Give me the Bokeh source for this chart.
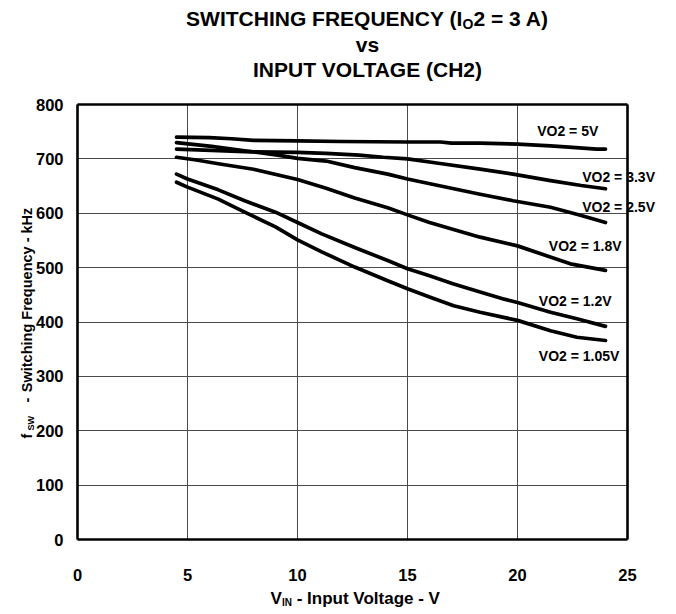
import math
from bokeh.plotting import figure
from bokeh.models import Label, FixedTicker, Range1d, LinearAxis, Grid
from bokeh.embed import file_html
from bokeh.resources import INLINE

# ---------------- data ----------------
vin_5v0 = [4.5, 6, 7, 8, 10, 12, 15, 16.5, 17, 18.3, 20, 21.5, 22.5, 23.6, 24]
fsw_5v0 = [740, 739, 737, 734, 733, 732, 731, 731, 729, 729, 727, 724, 721, 718, 718]

vin_3v3 = [4.5, 6.4, 7.9, 10, 11.3, 12.8, 13.9, 15, 16.4, 18.3, 19.8, 21.5, 22.9, 24]
fsw_3v3 = [718, 715, 713, 712, 710, 707, 703, 700, 692, 681, 672, 660, 651, 645]

vin_2v5 = [4.5, 6.1, 7.6, 9.1, 10, 11.3, 12.6, 14.1, 15, 16.4, 18.3, 19.8, 21.5, 22.9, 24]
fsw_2v5 = [730, 723, 715, 707, 701, 696, 684, 672, 663, 651, 635, 623, 611, 596, 583]

vin_1v8 = [4.5, 5.4, 6.4, 8, 10, 11.3, 12.6, 14.1, 15, 16, 18.3, 20, 22.4, 24]
fsw_1v8 = [703, 698, 691, 681, 662, 646, 628, 610, 597, 583, 556, 540, 507, 495]

vin_1v2 = [4.5, 5, 6.4, 7.6, 9, 10, 11.1, 12.6, 14.1, 15, 16, 17.1, 18.3, 19.4, 20, 21.5, 22.7, 24]
fsw_1v2 = [672, 663, 643, 623, 602, 583, 562, 537, 513, 498, 485, 470, 455, 442, 436, 418, 406, 392]

vin_1v05 = [4.5, 5, 6.4, 7.6, 9, 10, 11.1, 12.6, 14.1, 15, 16, 17.1, 18.3, 20, 21.5, 22.7, 24]
fsw_1v05 = [657, 648, 626, 602, 575, 551, 529, 501, 476, 461, 446, 430, 418, 403, 384, 372, 366]

series_names = ["VO2 = 5V", "VO2 = 3.3V", "VO2 = 2.5V", "VO2 = 1.8V", "VO2 = 1.2V", "VO2 = 1.05V"]
x_ticks = [0, 5, 10, 15, 20, 25]
y_ticks = [0, 100, 200, 300, 400, 500, 600, 700, 800]

# ---------------- figure ----------------
FONT = "Liberation Sans"
W, H = 676, 614
FX0, FX1, FY0, FY1 = 77, 627, 104, 539          # pixel box of the data area
x0, x1 = x_ticks[0], x_ticks[-1]
y0, y1 = y_ticks[0], y_ticks[-1]
sx = (FX1 - FX0) / (x1 - x0)
sy = (FY1 - FY0) / (y1 - y0)

p = figure(width=W, height=H, output_backend="svg", toolbar_location=None,
           x_range=Range1d(x0 - FX0 / sx, x1 + (W - FX1) / sx),
           y_range=Range1d(y0 - (H - FY1) / sy, y1 + FY0 / sy),
           min_border=0)
p.background_fill_color = "white"
p.border_fill_color = "white"
p.outline_line_color = None

def style_axis(ax, ticks, show_labels, standoff=0):
    ax.ticker = FixedTicker(ticks=ticks)
    ax.axis_line_color = "black"
    ax.axis_line_width = 2.6
    ax.major_tick_line_color = None
    ax.minor_tick_line_color = None
    ax.major_tick_out = 0
    ax.major_tick_in = 0
    ax.minor_tick_out = 0
    ax.minor_tick_in = 0
    ax.major_label_text_font = FONT
    ax.major_label_text_font_style = "bold"
    ax.major_label_text_font_size = "16.5px"
    ax.major_label_text_color = "black" if show_labels else None
    ax.major_label_standoff = standoff

xa = p.xaxis[0]
ya = p.yaxis[0]
xa.fixed_location = y0
xa.bounds = (x0, x1)
ya.fixed_location = x0
ya.bounds = (y0, y1)
style_axis(xa, x_ticks, True, 29)
style_axis(ya, y_ticks, True, 14)

top_ax = LinearAxis(fixed_location=y1, bounds=(x0, x1))
style_axis(top_ax, x_ticks, False)
p.add_layout(top_ax, "above")
right_ax = LinearAxis(fixed_location=x1, bounds=(y0, y1))
style_axis(right_ax, y_ticks, False)
p.add_layout(right_ax, "right")

has_cross = "cross_bounds" in Grid.properties()
if has_cross:
    p.xgrid.ticker = FixedTicker(ticks=x_ticks)
    p.ygrid.ticker = FixedTicker(ticks=y_ticks)
    p.xgrid.bounds = (x0, x1)
    p.xgrid.cross_bounds = (y0, y1)
    p.ygrid.bounds = (y0, y1)
    p.ygrid.cross_bounds = (x0, x1)
    p.grid.grid_line_color = "#4a4a4a"
    p.grid.grid_line_width = 1
else:
    p.grid.grid_line_color = None
    p.segment(x0=x_ticks[1:-1], y0=[y0] * (len(x_ticks) - 2), x1=x_ticks[1:-1], y1=[y1] * (len(x_ticks) - 2),
              line_color="#4a4a4a", line_width=1, level="underlay")
    p.segment(x0=[x0] * (len(y_ticks) - 2), y0=y_ticks[1:-1], x1=[x1] * (len(y_ticks) - 2), y1=y_ticks[1:-1],
              line_color="#4a4a4a", line_width=1, level="underlay")

series = [(vin_5v0, fsw_5v0), (vin_3v3, fsw_3v3), (vin_2v5, fsw_2v5),
          (vin_1v8, fsw_1v8), (vin_1v2, fsw_1v2), (vin_1v05, fsw_1v05)]
for xs, ys in series:
    p.line(xs, ys, line_color="black", line_width=3.7, line_join="round", line_cap="round")

def px2x(px):
    return x0 + (px - FX0) / sx

def py2y(py):
    return y0 + (FY1 - py) / sy

def add_text(px, py, text, size, align="left", angle=0):
    p.add_layout(Label(x=px2x(px), y=py2y(py), text=text, text_font=FONT,
                       text_font_style="bold", text_font_size=size, text_color="black",
                       angle=angle, text_align=align, text_baseline="middle"))

# curve labels: (left x, vertical centre) in pixels
label_px = [(536.7, 130), (581.7, 176.7), (581.7, 206.7), (548.3, 245), (538.3, 300), (538.3, 355)]
for name, (lx, ly) in zip(series_names, label_px):
    add_text(lx, ly, name, "14px")

# title (three lines, centred at x = 367)
add_text(462.1, 17.5, "SWITCHING FREQUENCY (I", "21px", align="right")
add_text(462.1, 23.5, "O", "14px")
add_text(473.0, 17.5, "2 = 3 A)", "21px")
add_text(367, 44, "vs", "21px", align="center")
add_text(367, 69, "INPUT VOLTAGE (CH2)", "21px", align="center")

# y-axis label (rotated, reading upwards)
A = math.pi / 2
add_text(26.5, 438, "f", "14.5px", angle=A)
add_text(30.5, 430, "SW", "9px", angle=A)
add_text(26.5, 402, "-", "14.5px", angle=A)
add_text(26.5, 391.7, "Switching Frequency - kHz", "14.5px", angle=A)

# x-axis label
add_text(270.0, 598, "V", "17px")
add_text(281.5, 602, "IN", "10px")
add_text(296.2, 598, "- Input Voltage - V", "17px")

open("out.html", "w").write(file_html(p, INLINE))
